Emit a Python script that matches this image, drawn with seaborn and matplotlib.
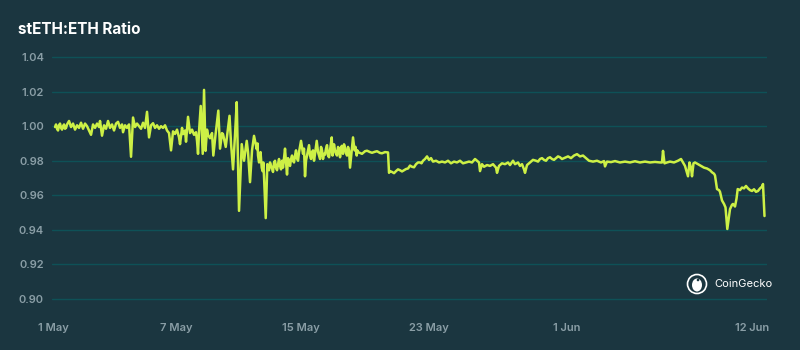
import matplotlib
matplotlib.use("Agg")
import matplotlib.pyplot as plt
import seaborn as sns
import pandas as pd
from matplotlib.patches import Circle, Ellipse

# ---- data: time in days since 1 May 00:00, value = stETH:ETH ratio ----
days = [
    -1.725, -1.597, -1.470, -1.342, -1.214, -1.086, -0.958, -0.831, -0.703, -0.575,
    -0.447, -0.319, -0.192, -0.064, 0.064, 0.192, 0.319, 0.447, 0.575, 0.703,
    0.831, 0.958, 1.086, 1.150, 1.278, 1.406, 1.534, 1.661, 1.789, 1.917,
    2.045, 2.173, 2.300, 2.428, 2.556, 2.620, 2.748, 2.875, 3.003, 3.131,
    3.259, 3.387, 3.514, 3.642, 3.770, 3.898, 4.026, 4.153, 4.281, 4.409,
    4.537, 4.665, 4.792, 4.920, 5.048, 5.176, 5.304, 5.431, 5.559, 5.687,
    5.815, 5.942, 6.070, 6.198, 6.262, 6.390, 6.454, 6.581, 6.645, 6.773,
    6.901, 7.029, 7.157, 7.284, 7.348, 7.412, 7.476, 7.585, 7.712, 7.796,
    7.891, 7.987, 8.051, 8.179, 8.307, 8.390, 8.530, 8.709, 8.818, 8.946,
    9.010, 9.182, 9.329, 9.425, 9.521, 9.649, 9.776, 9.885, 10.032, 10.204,
    10.351, 10.524, 10.607, 10.735, 10.863, 10.990, 11.163, 11.246, 11.374, 11.482,
    11.629, 11.738, 11.840, 11.949, 12.077, 12.141, 12.268, 12.396, 12.524, 12.652,
    12.780, 12.843, 12.971, 13.099, 13.227, 13.355, 13.482, 13.610, 13.738, 13.866,
    13.994, 14.121, 14.249, 14.377, 14.441, 14.569, 14.696, 14.760, 14.888, 14.997,
    15.080, 15.208, 15.335, 15.463, 15.591, 15.719, 15.847, 15.955, 16.038, 16.166,
    16.294, 16.422, 16.594, 16.677, 16.805, 16.933, 17.061, 17.125, 17.220, 17.316,
    17.412, 17.553, 17.636, 17.764, 18.083, 18.403, 18.722, 19.042, 19.361, 19.553,
    19.617, 19.808, 20.064, 20.319, 20.575, 20.831, 21.086, 21.342, 21.598, 21.789,
    21.917, 22.045, 22.173, 22.300, 22.428, 22.620, 22.812, 23.003, 23.195, 23.387,
    23.578, 23.770, 23.962, 24.153, 24.345, 24.537, 24.728, 24.920, 25.112, 25.240,
    25.367, 25.431, 25.559, 25.687, 25.879, 26.070, 26.262, 26.454, 26.518, 26.645,
    26.837, 27.029, 27.220, 27.348, 27.540, 27.668, 27.859, 27.987, 28.115, 28.243,
    28.307, 28.435, 28.626, 28.818, 29.010, 29.265, 29.521, 29.776, 30.032, 30.288,
    30.543, 30.799, 31.054, 31.246, 31.438, 31.629, 31.821, 32.013, 32.204, 32.396,
    32.652, 32.907, 33.163, 33.355, 33.419, 33.546, 33.802, 34.058, 34.377, 34.696,
    35.016, 35.335, 35.655, 35.974, 36.294, 36.613, 36.933, 37.061, 37.125, 37.220,
    37.380, 37.572, 37.827, 38.083, 38.275, 38.403, 38.530, 38.722, 38.818, 38.914,
    38.978, 39.073, 39.169, 39.361, 39.553, 39.744, 39.936, 40.128, 40.256, 40.383,
    40.447, 40.575, 40.703, 40.767, 40.895, 41.022, 41.118, 41.233, 41.342, 41.406,
    41.534, 41.597, 41.725, 41.821, 41.898, 42.045, 42.173, 42.300, 42.428, 42.556,
    42.684, 42.812, 42.939, 43.067, 43.195, 43.323, 43.450, 43.514, 43.610,
    # additional readings in the noisy stretches
    -1.661, -1.534, -1.406, -1.278, -1.150, -1.022,
    11.214, 11.310, 11.406, 11.534, 11.585,
    12.013, 12.204, 12.332, 12.460, 12.588, 12.716, 13.035, 13.163, 13.291, 13.419,
    13.546, 13.674, 13.802, 14.185, 14.313, 14.505, 14.633, 14.824, 15.272, 15.399,
    15.527, 15.655, 15.783, 16.006, 16.102, 16.230, 16.358, 16.486, 16.741, 16.869,
    16.997, 17.476, 17.591, 17.891, 18.211, 18.530, 18.850, 19.169,
    19.681, 19.936, 20.192, 20.447, 20.703, 20.958, 21.214, 21.470, 21.693,
    29.137, 29.393, 29.649, 29.904, 30.160, 30.415, 30.671, 30.927,
]
ratio = [
    0.9995, 0.9985, 1.0005, 0.9990, 1.0000, 0.9985, 1.0010, 1.0030, 0.9995, 1.0015,
    0.9980, 1.0005, 0.9990, 1.0020, 0.9985, 1.0015, 1.0000, 0.9975, 0.9950, 1.0010,
    0.9990, 1.0015, 0.9995, 1.0030, 0.9945, 1.0005, 0.9985, 1.0030, 0.9990, 1.0010,
    0.9975, 1.0015, 1.0025, 0.9990, 1.0010, 0.9965, 1.0005, 0.9990, 1.0010, 0.9823,
    1.0050, 0.9995, 1.0015, 1.0000, 0.9985, 1.0020, 0.9990, 1.0083, 0.9935, 1.0005,
    1.0017, 0.9990, 1.0005, 0.9985, 1.0000, 0.9990, 1.0005, 0.9975, 0.9960, 0.9860,
    0.9970, 0.9955, 0.9980, 0.9935, 0.9896, 0.9990, 0.9954, 0.9975, 0.9910, 1.0054,
    0.9960, 0.9980, 0.9950, 0.9965, 0.9915, 0.9840, 0.9970, 1.0117, 0.9840, 1.0210,
    0.9857, 0.9980, 0.9950, 0.9930, 0.9960, 0.9830, 0.9950, 1.0090, 0.9870, 0.9960,
    0.9954, 0.9880, 0.9990, 1.0060, 0.9900, 0.9750, 0.9950, 1.0139, 0.9510, 0.9896,
    0.9800, 0.9915, 0.9850, 0.9676, 0.9860, 0.9944, 0.9867, 0.9830, 0.9800, 0.9760,
    0.9710, 0.9468, 0.9780, 0.9745, 0.9770, 0.9755, 0.9790, 0.9760, 0.9780, 0.9770,
    0.9800, 0.9760, 0.9870, 0.9720, 0.9790, 0.9810, 0.9800, 0.9830, 0.9815, 0.9850,
    0.9915, 0.9840, 0.9710, 0.9830, 0.9860, 0.9830, 0.9850, 0.9860, 0.9840, 0.9915,
    0.9850, 0.9810, 0.9860, 0.9840, 0.9870, 0.9830, 0.9860, 0.9935, 0.9850, 0.9860,
    0.9830, 0.9870, 0.9886, 0.9840, 0.9875, 0.9830, 0.9860, 0.9760, 0.9850, 0.9935,
    0.9860, 0.9830, 0.9850, 0.9845, 0.9855, 0.9850, 0.9852, 0.9845, 0.9850, 0.9848,
    0.9730, 0.9735, 0.9740, 0.9745, 0.9745, 0.9755, 0.9765, 0.9780, 0.9790, 0.9800,
    0.9810, 0.9825, 0.9805, 0.9815, 0.9795, 0.9800, 0.9790, 0.9795, 0.9790, 0.9800,
    0.9785, 0.9795, 0.9790, 0.9800, 0.9785, 0.9790, 0.9795, 0.9790, 0.9810, 0.9800,
    0.9790, 0.9740, 0.9780, 0.9765, 0.9775, 0.9770, 0.9780, 0.9760, 0.9730, 0.9770,
    0.9785, 0.9780, 0.9790, 0.9775, 0.9800, 0.9780, 0.9790, 0.9770, 0.9780, 0.9750,
    0.9730, 0.9775, 0.9790, 0.9805, 0.9800, 0.9810, 0.9805, 0.9815, 0.9810, 0.9815,
    0.9820, 0.9815, 0.9825, 0.9815, 0.9830, 0.9838, 0.9825, 0.9830, 0.9815, 0.9800,
    0.9795, 0.9800, 0.9790, 0.9798, 0.9767, 0.9795, 0.9792, 0.9798, 0.9790, 0.9795,
    0.9790, 0.9797, 0.9790, 0.9795, 0.9790, 0.9793, 0.9790, 0.9790, 0.9857, 0.9785,
    0.9790, 0.9795, 0.9790, 0.9800, 0.9810, 0.9790, 0.9770, 0.9710, 0.9790, 0.9760,
    0.9710, 0.9785, 0.9790, 0.9780, 0.9770, 0.9760, 0.9755, 0.9745, 0.9733, 0.9725,
    0.9715, 0.9636, 0.9630, 0.9620, 0.9570, 0.9550, 0.9530, 0.9405, 0.9480, 0.9520,
    0.9545, 0.9550, 0.9535, 0.9580, 0.9636, 0.9630, 0.9645, 0.9640, 0.9654, 0.9640,
    0.9630, 0.9625, 0.9635, 0.9620, 0.9625, 0.9640, 0.9650, 0.9665, 0.9480,
    # additional readings in the noisy stretches
    1.0010, 0.9975, 1.0015, 0.9980, 1.0010, 0.9990,
    0.9900, 0.9790, 0.9850, 0.9740, 0.9790,
    0.9790, 0.9735, 0.9800, 0.9745, 0.9810, 0.9750, 0.9790, 0.9815, 0.9770, 0.9830,
    0.9790, 0.9860, 0.9800, 0.9870, 0.9800, 0.9890, 0.9810, 0.9800, 0.9880, 0.9810,
    0.9835, 0.9890, 0.9820, 0.9830, 0.9895, 0.9840, 0.9880, 0.9820, 0.9895, 0.9845,
    0.9880, 0.9880, 0.9860, 0.9840, 0.9858, 0.9846, 0.9855, 0.9843,
    0.9740, 0.9728, 0.9750, 0.9738, 0.9752, 0.9772, 0.9762, 0.9790, 0.9785,
    0.9795, 0.9815, 0.9800, 0.9820, 0.9805, 0.9825, 0.9810, 0.9820,
]
tick_pos = [-1.85, 6.0, 14.0, 22.17, 31.0, 42.8]
tick_labels = ["1 May", "7 May", "15 May", "23 May", "1 Jun", "12 Jun"]
y_ticks = [0.90, 0.92, 0.94, 0.96, 0.98, 1.00, 1.02, 1.04]

df = pd.DataFrame({"day": days, "ratio": ratio}).sort_values("day").reset_index(drop=True)

BG = "#1b3640"
GRID = "#0e5157"
LINE = "#cdf046"
TXT = "#8a9ea6"

sns.set_theme(style="dark")
plt.rcParams["font.family"] = ["Inter", "DejaVu Sans"]

fig = plt.figure(figsize=(8, 3.5), dpi=100, facecolor=BG)
ax = fig.add_axes([52.3 / 800, 0.1211, (767 - 52.3) / 800, 0.7406])
ax.set_facecolor(BG)

sns.lineplot(data=df, x="day", y="ratio", ax=ax, color=LINE, linewidth=1.8,
             sort=True, estimator=None)

ax.set_xlim(-1.9, 43.77)
ax.set_ylim(0.895, 1.045)
ax.set_yticks(y_ticks)
ax.set_yticklabels([f"{v:.2f}" for v in y_ticks])
ax.set_xticks(tick_pos)
ax.set_xticklabels(tick_labels)
ax.grid(False)
ax.yaxis.grid(True, color=GRID, linewidth=1.0)
ax.set_axisbelow(True)
for s in ax.spines.values():
    s.set_visible(False)
ax.tick_params(axis="y", length=0, pad=6, labelsize=8, labelcolor=TXT)
ax.tick_params(axis="x", length=0, pad=11, labelsize=8, labelcolor=TXT)
for lab in ax.get_yticklabels() + ax.get_xticklabels():
    lab.set_fontweight("semibold")
ax.set_xlabel("")
ax.set_ylabel("")

fig.text(18 / 800, 1 - 30 / 350, "stETH:ETH Ratio", color="white",
         fontsize=11, fontweight="bold", va="center", ha="left")

# CoinGecko watermark
lax = fig.add_axes([0, 0, 1, 1], facecolor="none")
lax.set_xlim(0, 800)
lax.set_ylim(350, 0)
lax.axis("off")
lax.add_patch(Circle((697, 284), 9.5, fill=False, edgecolor="white", linewidth=1.2))
lax.add_patch(Ellipse((697, 285), 10, 13, facecolor="white", edgecolor="none"))
lax.add_patch(Circle((698, 280), 1.3, facecolor=BG, edgecolor="none"))
lax.text(714, 284, "CoinGecko", color="white", fontsize=8, va="center", ha="left")

fig.savefig("out.png", dpi=100, facecolor=BG)
